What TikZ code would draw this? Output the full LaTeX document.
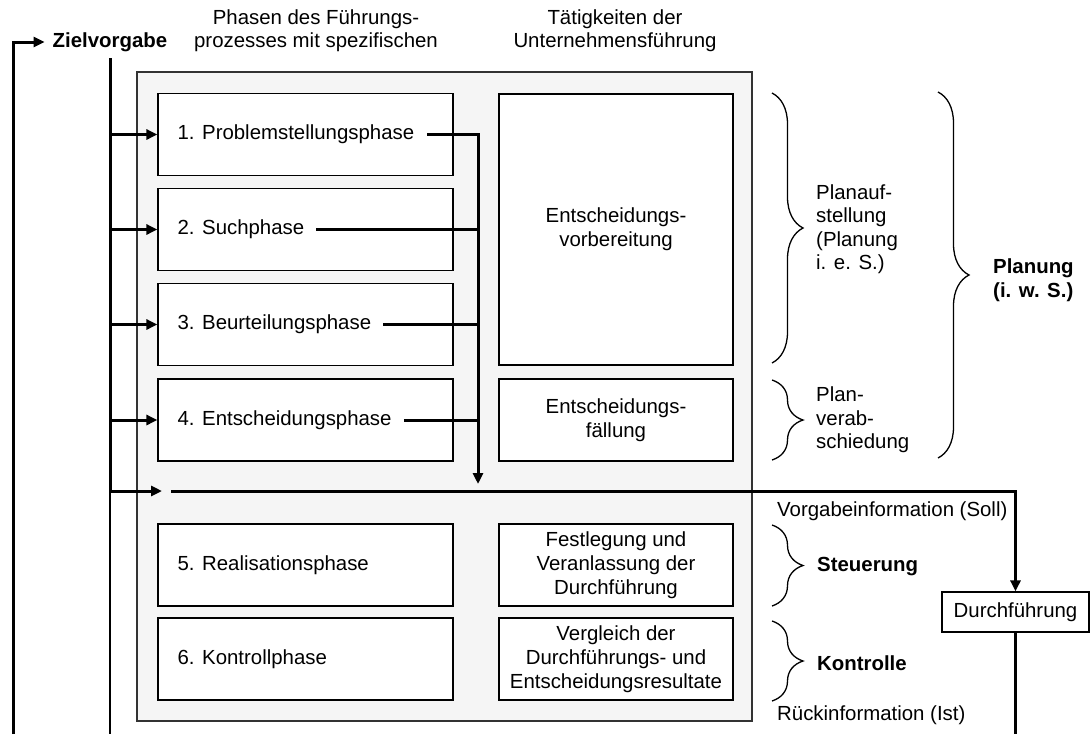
\documentclass[tikz,border=0pt]{standalone}
\usepackage{fontspec}
\setmainfont{Liberation Sans}
\usetikzlibrary{arrows.meta,decorations.pathreplacing,calc}
\definecolor{panelgray}{RGB}{245,245,245}
\begin{document}
\begin{tikzpicture}[x=1pt,y=-1pt,
  every node/.style={font=\fontsize{20.4}{23.5}\selectfont},
  lbox/.style={draw, line width=1.2pt, fill=white, minimum width=295pt, minimum height=82pt, inner sep=0pt},
  rbox/.style={draw, line width=1.2pt, fill=white, minimum width=234pt, minimum height=82pt, inner sep=0pt, align=center, font=\fontsize{20.4}{24}\selectfont},
  txt/.style={inner sep=0pt, anchor=west},
  side/.style={inner sep=0pt, anchor=west, align=left},
  flow/.style={line width=3pt},
  tip/.style={-{Triangle[length=11pt,width=10pt]}},
  curly/.style={decorate, decoration={brace, amplitude=31pt}, line width=1.3pt}
]
\useasboundingbox (0,0) rectangle (1090,734);

% column headings
\node[align=center] (h1) at (316,30.5) {Phasen des Führungs-\\prozesses mit spezifischen};
\node[align=center] (h2) at (615,30.5) {Tätigkeiten der\\Unternehmensführung};

% grey panel holding the phases
\draw[fill=panelgray, draw=black!80, line width=1.3pt] (137,72) rectangle (752,721);

% phases
\node[lbox] (b1) at (305.5,134.5) {};
\node[lbox] (b2) at (305.5,229.5) {};
\node[lbox] (b3) at (305.5,324.5) {};
\node[lbox] (b4) at (305.5,420) {};
\node[lbox] (b5) at (305.5,565) {};
\node[lbox] (b6) at (305.5,659) {};
\node[txt] (t1) at ([xshift=20pt]b1.west) {1. Problemstellungsphase};
\node[txt] (t2) at ([xshift=20pt]b2.west) {2. Suchphase};
\node[txt] (t3) at ([xshift=20pt]b3.west) {3. Beurteilungsphase};
\node[txt] (t4) at ([xshift=20pt]b4.west) {4. Entscheidungsphase};
\node[txt] (t5) at ([xshift=20pt]b5.west) {5. Realisationsphase};
\node[txt] (t6) at ([xshift=20pt]b6.west) {6. Kontrollphase};

% activities
\node[rbox, minimum height=271pt] (r1) at (616,229.5) {Entscheidungs-\\vorbereitung};
\node[rbox] (r2) at (616,420) {Entscheidungs-\\fällung};
\node[rbox] (r3) at (616,565) {Festlegung und\\Veranlassung der\\Durchführung};
\node[rbox] (r4) at (616,659) {Vergleich der\\Durchführungs- und\\Entscheidungsresultate};

% goal and execution
\node[font=\bfseries\fontsize{20.4}{24}\selectfont, inner sep=0pt] (zv) at (110,42) {Zielvorgabe};
\node[draw, line width=1.2pt, fill=white, minimum width=147pt, minimum height=40pt, inner sep=0pt] (df) at (1015.5,612) {Durchführung};

% named ends of the connectors
\coordinate (zvline) at (110,58);
\coordinate (split) at (110,491);
\coordinate (entry) at (162,491);
\coordinate (vstart) at (171,491);
\coordinate (busend) at (478,484);
\coordinate (loopbot) at (13,734);
\coordinate (lowend) at (110,734);
\coordinate (rueckend) at (1015.5,734);

% goal feeds every planning phase
\draw[flow, tip] (zvline) |- (entry);
\draw[line width=1.4pt] (split) -- (lowend);
\foreach \b in {b1,b2,b3,b4}
  \draw[flow, tip] (\b.west -| zvline) -- (\b.west);

% outer feedback loop into the goal
\draw[flow, tip, shorten >=8pt] (loopbot) |- (zv.west);

% results of the planning phases are collected
\draw[flow, tip] ([xshift=13pt]t1.east) -| (busend);
\draw[flow] ([xshift=12pt]t2.east) -- (t2.east -| busend);
\draw[flow] ([xshift=12pt]t3.east) -- (t3.east -| busend);
\draw[flow] ([xshift=12pt]t4.east) -- (t4.east -| busend);

% target information to execution, feedback below
\draw[flow, tip] (vstart) -| (df.north);
\draw[flow] (df.south) -- (rueckend);

% braces and their labels
\draw[curly] (772,93) -- (772,363);
\draw[curly] (772,380) -- (772,460);
\draw[curly] (938,92) -- (938,458);
\draw[curly] (772,525) -- (772,606);
\draw[curly] (772,621) -- (772,701);

\node[side] (pa) at (816,229) {Planauf-\\stellung\\(Planung\\i. e. S.)};
\node[side] (pv) at (816,420) {Plan-\\verab-\\schiedung};
\node[side, font=\bfseries\fontsize{20.4}{23.5}\selectfont] (pw) at (993,280) {Planung\\(i. w. S.)};
\node[side, font=\bfseries\fontsize{20.4}{24}\selectfont] (st) at (817,567) {Steuerung};
\node[side, font=\bfseries\fontsize{20.4}{24}\selectfont] (ko) at (817,663) {Kontrolle};

\node[txt] (vi) at (777,511) {Vorgabeinformation (Soll)};
\node[txt] (ri) at (777,715) {Rückinformation (Ist)};
\end{tikzpicture}
\end{document}
